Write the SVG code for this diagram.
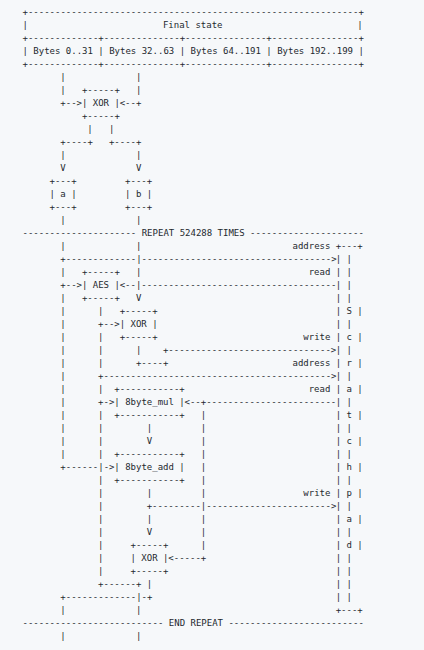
<svg xmlns="http://www.w3.org/2000/svg" width="424" height="650" viewBox="0 0 424 650" xml:space="preserve">
<style>
text { font-family: "DejaVu Sans Mono", "Liberation Mono", monospace; font-size: 9px; fill: #24292f; }
</style>
<rect x="0" y="0" width="424" height="650" fill="#f6f8fa"/>
<g id="final-state">
<text x="22.5" y="14.5">+-------------------------------------------------------------+</text>
<text x="22.5" y="27.5">|</text><text x="162.9" y="27.5">Final state</text><text x="357.3" y="27.5">|</text>
<text x="22.5" y="40.5">+-------------+--------------+---------------+----------------+</text>
<text x="22.5" y="53.5">| Bytes 0..31 | Bytes 32..63 | Bytes 64..191 | Bytes 192..199 |</text>
<text x="22.5" y="66.5">+-------------+--------------+---------------+----------------+</text>
</g>
<g id="xor-init">
<text x="81.9" y="92.5">+-----+</text>
<text x="81.9" y="105.5">| XOR |</text>
<text x="81.9" y="118.5">+-----+</text>
</g>
<g id="a">
<text x="49.5" y="183.5">+---+</text>
<text x="49.5" y="196.5">| a |</text>
<text x="49.5" y="209.5">+---+</text>
</g>
<g id="b">
<text x="125.1" y="183.5">+---+</text>
<text x="125.1" y="196.5">| b |</text>
<text x="125.1" y="209.5">+---+</text>
</g>
<g id="repeat">
<text x="22.5" y="235.5">--------------------- REPEAT 524288 TIMES ---------------------</text>
</g>
<g id="aes">
<text x="81.9" y="274.5">+-----+</text>
<text x="81.9" y="287.5">| AES |</text>
<text x="81.9" y="300.5">+-----+</text>
</g>
<g id="xor-1">
<text x="119.7" y="313.5">+-----+</text>
<text x="119.7" y="326.5">| XOR |</text>
<text x="119.7" y="339.5">+-----+</text>
</g>
<g id="mul">
<text x="114.3" y="391.5">+-----------+</text>
<text x="114.3" y="404.5">| 8byte_mul |</text>
<text x="114.3" y="417.5">+-----------+</text>
</g>
<g id="add">
<text x="114.3" y="456.5">+-----------+</text>
<text x="114.3" y="469.5">| 8byte_add |</text>
<text x="114.3" y="482.5">+-----------+</text>
</g>
<g id="xor-2">
<text x="130.5" y="547.5">+-----+</text>
<text x="130.5" y="560.5">| XOR |</text>
<text x="130.5" y="573.5">+-----+</text>
</g>
<g id="scratchpad">
<text x="335.7" y="248.5">+---+</text>
<text x="335.7" y="261.5">|   |</text>
<text x="335.7" y="274.5">|   |</text>
<text x="335.7" y="287.5">|   |</text>
<text x="335.7" y="300.5">|   |</text>
<text x="335.7" y="313.5">| S |</text>
<text x="335.7" y="326.5">|   |</text>
<text x="335.7" y="339.5">| c |</text>
<text x="335.7" y="352.5">|   |</text>
<text x="335.7" y="365.5">| r |</text>
<text x="335.7" y="378.5">|   |</text>
<text x="335.7" y="391.5">| a |</text>
<text x="335.7" y="404.5">|   |</text>
<text x="335.7" y="417.5">| t |</text>
<text x="335.7" y="430.5">|   |</text>
<text x="335.7" y="443.5">| c |</text>
<text x="335.7" y="456.5">|   |</text>
<text x="335.7" y="469.5">| h |</text>
<text x="335.7" y="482.5">|   |</text>
<text x="335.7" y="495.5">| p |</text>
<text x="335.7" y="508.5">|   |</text>
<text x="335.7" y="521.5">| a |</text>
<text x="335.7" y="534.5">|   |</text>
<text x="335.7" y="547.5">| d |</text>
<text x="335.7" y="560.5">|   |</text>
<text x="335.7" y="573.5">|   |</text>
<text x="335.7" y="586.5">|   |</text>
<text x="335.7" y="599.5">|   |</text>
<text x="335.7" y="612.5">+---+</text>
</g>
<g id="end-repeat">
<text x="22.5" y="625.5">-------------------------- END REPEAT -------------------------</text>
</g>
<g id="connectors">
<text x="60.3" y="79.5">|</text><text x="135.9" y="79.5">|</text>
<text x="60.3" y="92.5">|</text><text x="135.9" y="92.5">|</text>
<text x="60.3" y="105.5">+--&gt;</text><text x="119.7" y="105.5">&lt;--+</text>
<text x="87.3" y="131.5">|</text><text x="108.9" y="131.5">|</text>
<text x="60.3" y="144.5">+----+</text><text x="108.9" y="144.5">+----+</text>
<text x="60.3" y="157.5">|</text><text x="135.9" y="157.5">|</text>
<text x="60.3" y="170.5">V</text><text x="135.9" y="170.5">V</text>
<text x="60.3" y="222.5">|</text><text x="135.9" y="222.5">|</text>
<text x="60.3" y="248.5">|</text><text x="135.9" y="248.5">|</text>
<text x="60.3" y="261.5">+-------------|-----------------------------------&gt;</text>
<text x="60.3" y="274.5">|</text><text x="135.9" y="274.5">|</text>
<text x="60.3" y="287.5">+--&gt;</text><text x="119.7" y="287.5">&lt;--|------------------------------------</text>
<text x="60.3" y="300.5">|</text><text x="135.9" y="300.5">V</text>
<text x="60.3" y="313.5">|</text><text x="98.1" y="313.5">|</text>
<text x="60.3" y="326.5">|</text><text x="98.1" y="326.5">+--&gt;</text>
<text x="60.3" y="339.5">|</text><text x="98.1" y="339.5">|</text>
<text x="60.3" y="352.5">|</text><text x="98.1" y="352.5">|</text><text x="135.9" y="352.5">|</text><text x="162.9" y="352.5">+------------------------------&gt;</text>
<text x="60.3" y="365.5">|</text><text x="98.1" y="365.5">|</text><text x="135.9" y="365.5">+----+</text>
<text x="60.3" y="378.5">|</text><text x="98.1" y="378.5">+------------------------------------------&gt;</text>
<text x="60.3" y="391.5">|</text><text x="98.1" y="391.5">|</text>
<text x="60.3" y="404.5">|</text><text x="98.1" y="404.5">+-&gt;</text><text x="184.5" y="404.5">&lt;--+------------------------</text>
<text x="60.3" y="417.5">|</text><text x="98.1" y="417.5">|</text><text x="200.7" y="417.5">|</text>
<text x="60.3" y="430.5">|</text><text x="98.1" y="430.5">|</text><text x="146.7" y="430.5">|</text><text x="200.7" y="430.5">|</text>
<text x="60.3" y="443.5">|</text><text x="98.1" y="443.5">|</text><text x="146.7" y="443.5">V</text><text x="200.7" y="443.5">|</text>
<text x="60.3" y="456.5">|</text><text x="98.1" y="456.5">|</text><text x="200.7" y="456.5">|</text>
<text x="60.3" y="469.5">+------|-&gt;</text><text x="200.7" y="469.5">|</text>
<text x="98.1" y="482.5">|</text><text x="200.7" y="482.5">|</text>
<text x="98.1" y="495.5">|</text><text x="146.7" y="495.5">|</text><text x="200.7" y="495.5">|</text>
<text x="98.1" y="508.5">|</text><text x="146.7" y="508.5">+---------|-----------------------&gt;</text>
<text x="98.1" y="521.5">|</text><text x="146.7" y="521.5">|</text><text x="200.7" y="521.5">|</text>
<text x="98.1" y="534.5">|</text><text x="146.7" y="534.5">V</text><text x="200.7" y="534.5">|</text>
<text x="98.1" y="547.5">|</text><text x="200.7" y="547.5">|</text>
<text x="98.1" y="560.5">|</text><text x="168.3" y="560.5">&lt;-----+</text>
<text x="98.1" y="573.5">|</text>
<text x="98.1" y="586.5">+------+ |</text>
<text x="60.3" y="599.5">+-------------|-+</text>
<text x="60.3" y="612.5">|</text><text x="135.9" y="612.5">|</text>
<text x="60.3" y="638.5">|</text><text x="135.9" y="638.5">|</text>
<g id="labels">
<text x="292.5" y="248.5">address</text>
<text x="308.7" y="274.5">read</text>
<text x="303.3" y="339.5">write</text>
<text x="292.5" y="365.5">address</text>
<text x="308.7" y="391.5">read</text>
<text x="303.3" y="495.5">write</text>
</g>
</g>
</svg>
